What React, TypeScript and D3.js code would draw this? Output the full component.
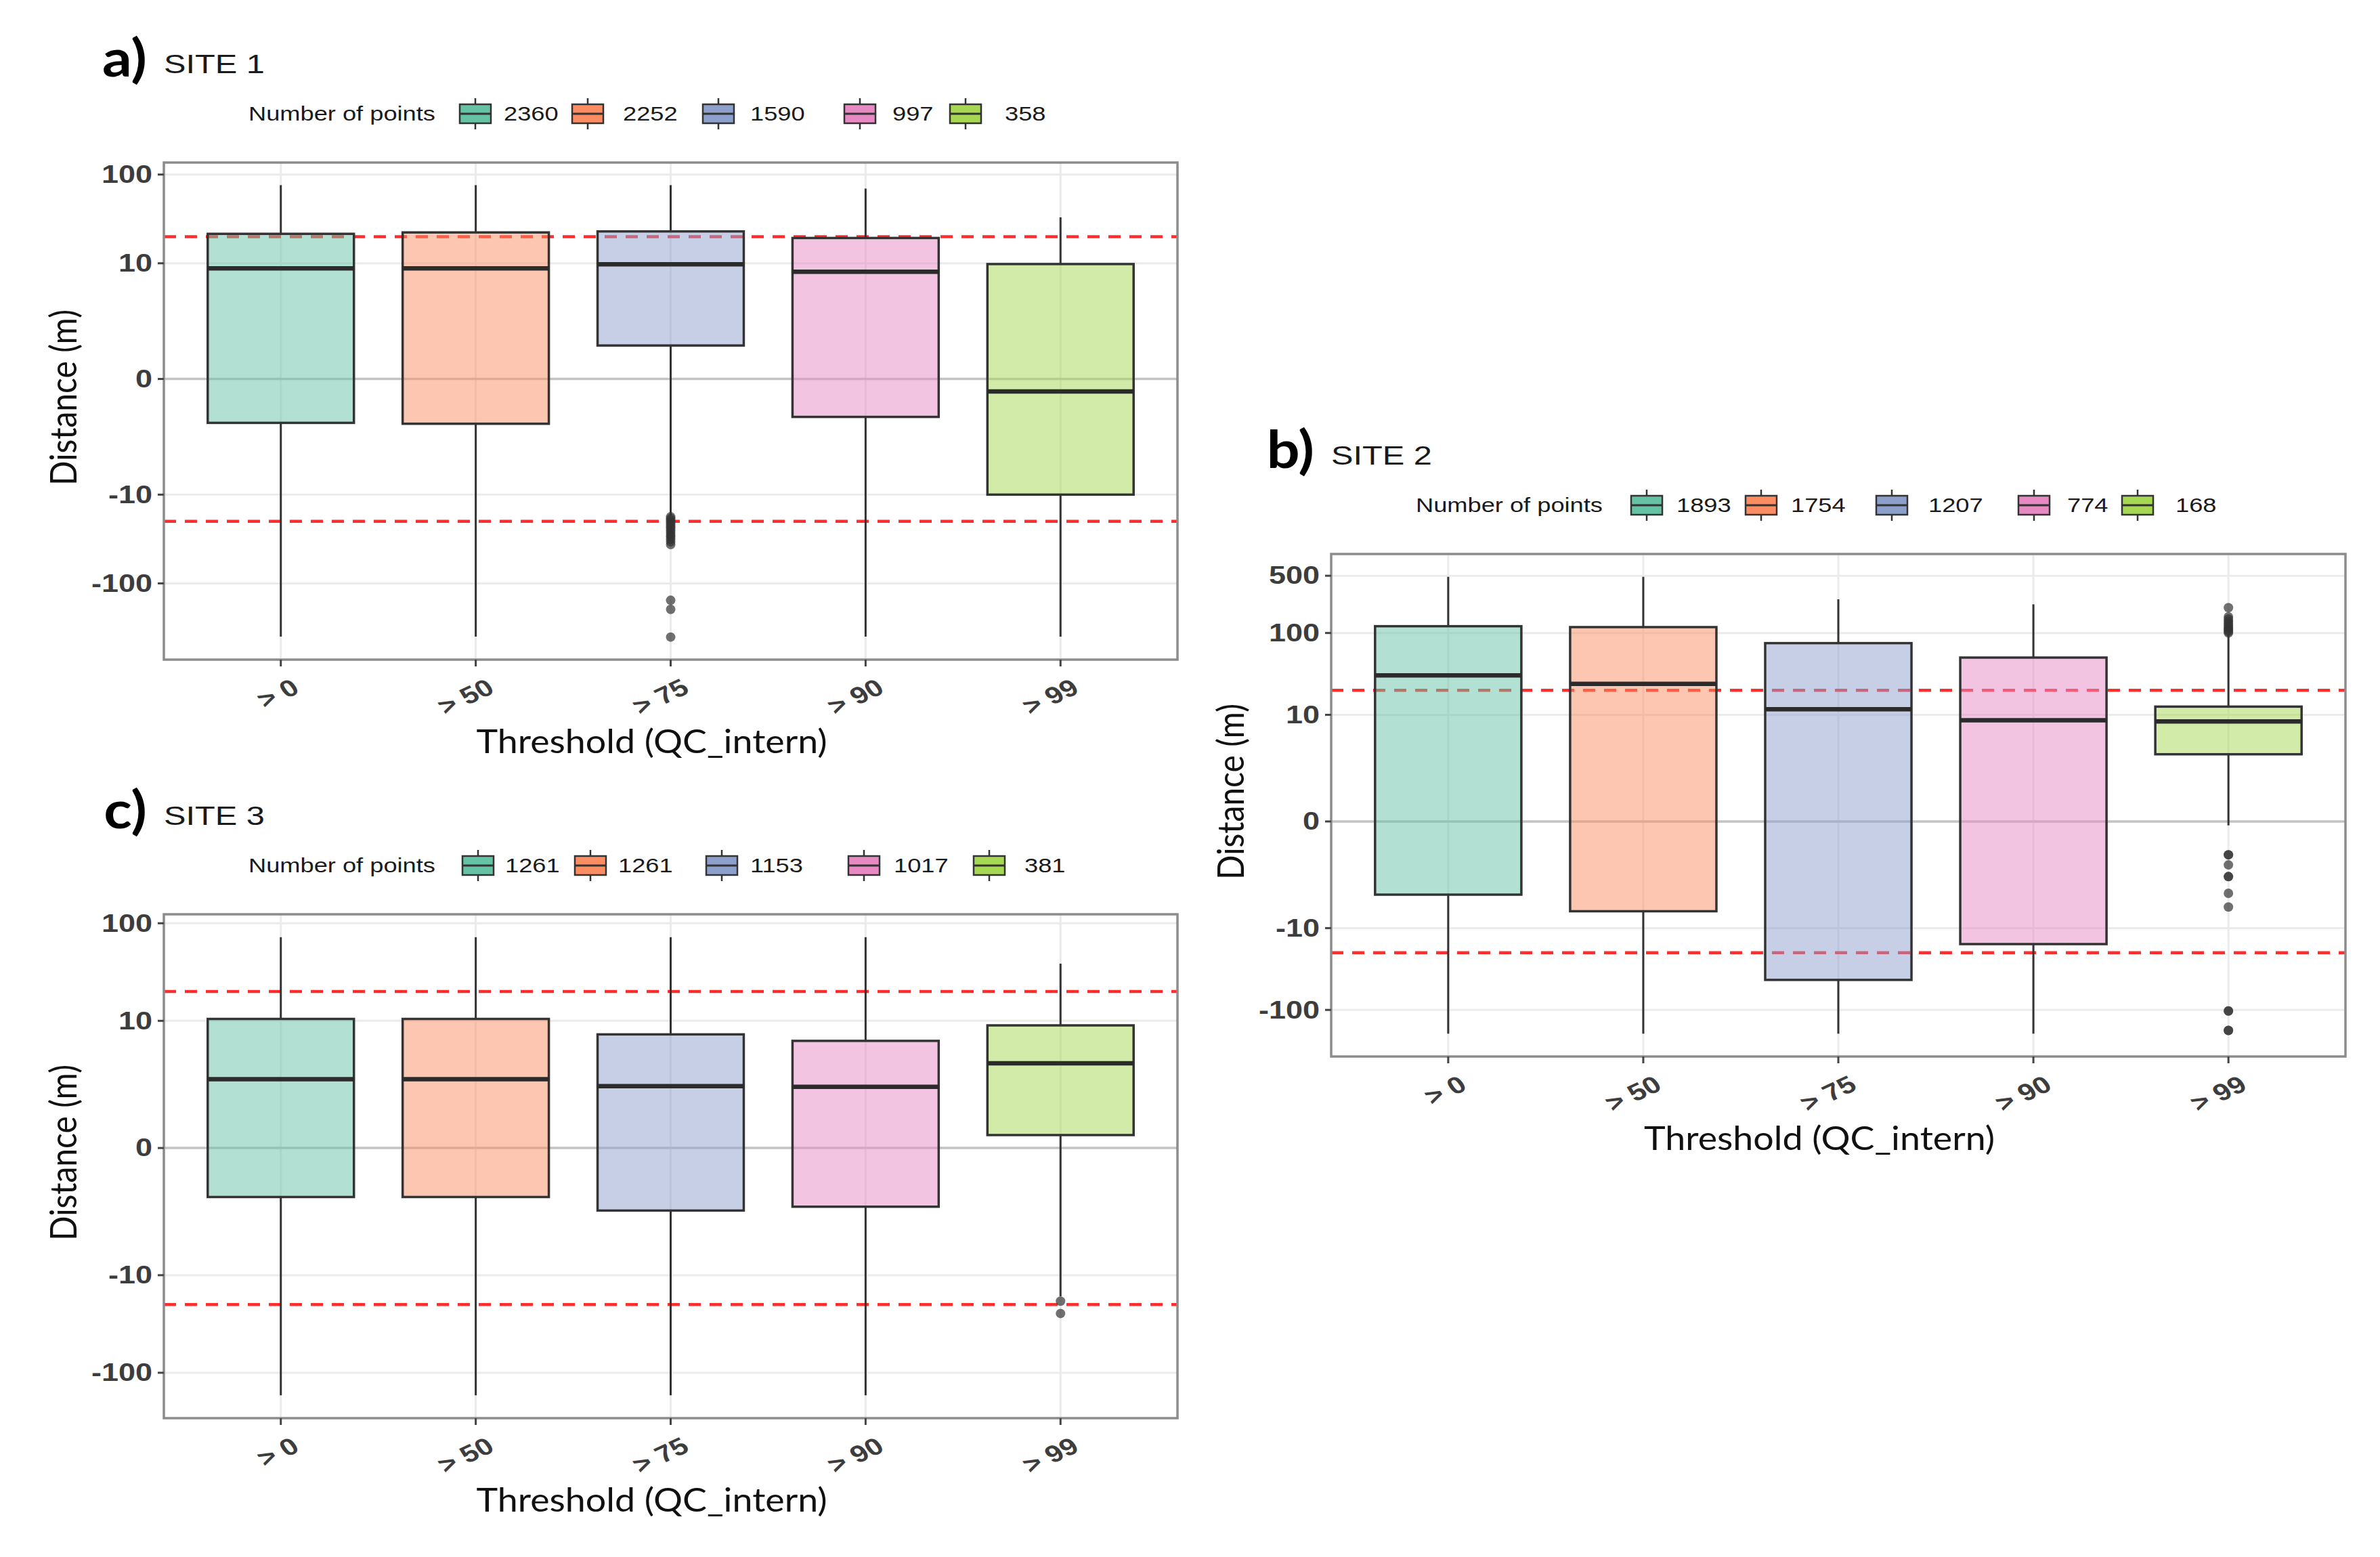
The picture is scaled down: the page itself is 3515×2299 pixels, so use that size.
import React from "react";
import * as d3 from "d3";

// thresholds on QC_intern and Set2 colours
const categories = ["> 0", "> 50", "> 75", "> 90", "> 99"];
const fillColors = ["#66C2A5", "#FC8D62", "#8DA0CB", "#E78AC3", "#A6D854"];
const thresholdLines = [-20, 20];

// SITE 1
const site1Counts = [2360, 2252, 1590, 997, 358];
const site1Lower = [-398, -398, -17.4, -398, -398];
const site1Q1 = [-1.4, -1.44, 0.98, -1.15, -10];
const site1Median = [8.78, 8.78, 9.73, 8.02, -0.33];
const site1Q3 = [21.5, 22.3, 22.9, 19.3, 9.8];
const site1Upper = [76, 76, 76, 69.5, 33];
const site1Outliers = [
  [],
  [],
  [-17.8, -18.6, -19.5, -20.5, -21.6, -22.8, -24, -25.5, -27, -28.5, -30, -32, -34, -36.5, -155, -196, -402],
  [],
  [],
];
const site1Ticks = [-100, -10, 0, 10, 100];

// SITE 2
const site2Counts = [1893, 1754, 1207, 774, 168];
const site2Lower = [-195, -195, -195, -195, -0.11];
const site2Q1 = [-3.85, -6.2, -43, -15.7, 3.23];
const site2Median = [30.3, 23.9, 11.7, 8.56, 8.3];
const site2Q3 = [121, 118, 75.2, 50.1, 12.6];
const site2Upper = [485, 485, 258, 224, 99];
const site2Outliers = [
  [],
  [],
  [],
  [],
  [100, 104, 108, 113, 118, 124, 131, 139, 148, 158, 204, -1.08, -1.08, -1.55, -2.25, -2.25, -3.7, -5.5, -103, -103, -178, -178],
];
const site2Ticks = [-100, -10, 0, 10, 100, 500];

// SITE 3
const site3Counts = [1261, 1261, 1153, 1017, 381];
const site3Lower = [-170, -170, -170, -170, -16.5];
const site3Q1 = [-1.43, -1.43, -2.07, -1.87, 0.31];
const site3Median = [2.43, 2.43, 2.03, 2.0, 3.62];
const site3Q3 = [10.46, 10.46, 7.25, 6.21, 8.98];
const site3Upper = [72, 72, 72, 72, 38.6];
const site3Outliers = [[], [], [], [], [-18.5, -24.7]];
const site3Ticks = [-100, -10, 0, 10, 100];

const SANS = "'Liberation Sans', Arial, sans-serif";
const HUMAN = "Lato, 'Open Sans', sans-serif";
const SX = 1.25; // the figure is stretched horizontally
const SX2 = 1.12;

interface PanelProps {
  letter: string;
  site: string;
  counts: number[];
  lower: number[];
  q1: number[];
  median: number[];
  q3: number[];
  upper: number[];
  outliers: number[][];
  ticks: number[];
  left: number;
  top: number;
  width: number;
  height: number;
  keyX: number[];
  labelX: number[];
}

const Panel: React.FC<PanelProps> = ({
  letter, site, counts, lower, q1, median, q3, upper, outliers, ticks,
  left, top, width, height, keyX, labelX,
}) => {
  const bottom = top + height;
  const right = left + width;

  const x = d3.scalePoint<string>().domain(categories).range([left, right]).padding(0.6);
  const bw = x.step() * 0.75;

  // pseudo-log axis (asinh), 5% expansion like ggplot
  const tv = [...lower, ...upper, ...outliers.flat()].map(Math.asinh);
  const lo = d3.min(tv) ?? 0;
  const hi = d3.max(tv) ?? 1;
  const pad = (hi - lo) * 0.05;
  const yT = d3.scaleLinear().domain([lo - pad, hi + pad]).range([bottom, top]);
  const y = (v: number) => yT(Math.asinh(v));

  const legendY = top - 72;
  const titleY = top - 132;

  return (
    <g>
      {/* title */}
      <text
        transform={`translate(${left - 25},${top - 127}) scale(${SX2},1)`}
        textAnchor="end"
        fontFamily={HUMAN}
        fontWeight={700}
        fontSize={77}
        fill="#000"
      >
        {letter}
      </text>
      <text
        transform={`translate(${left},${titleY}) scale(${SX},1)`}
        fontFamily={SANS}
        fontSize={39}
        fill="#1a1a1a"
      >
        {site}
      </text>

      {/* legend */}
      <text
        transform={`translate(${left + 125},${legendY}) scale(${SX},1)`}
        fontFamily={SANS}
        fontSize={29}
        dominantBaseline="central"
        fill="#1a1a1a"
      >
        Number of points
      </text>
      {counts.map((c, i) => {
        const kx = left + keyX[i];
        return (
          <g key={`lg${i}`}>
            <line x1={kx + 23} x2={kx + 23} y1={legendY - 23} y2={legendY + 23} stroke="#333" strokeWidth={2.5} />
            <rect x={kx} y={legendY - 14} width={46} height={28} fill={fillColors[i]} stroke="#333" strokeWidth={2.5} />
            <line x1={kx} x2={kx + 46} y1={legendY} y2={legendY} stroke="#333" strokeWidth={3} />
            <text
              transform={`translate(${left + labelX[i]},${legendY}) scale(${SX},1)`}
              fontFamily={SANS}
              fontSize={29}
              dominantBaseline="central"
              fill="#1a1a1a"
            >
              {c}
            </text>
          </g>
        );
      })}

      {/* panel background and grid */}
      <rect x={left} y={top} width={width} height={height} fill="#fff" />
      {ticks.map((t) => (
        <line key={`gy${t}`} x1={left} x2={right} y1={y(t)} y2={y(t)} stroke="#ebebeb" strokeWidth={3} />
      ))}
      {categories.map((c) => (
        <line key={`gx${c}`} x1={x(c)} x2={x(c)} y1={top} y2={bottom} stroke="#ebebeb" strokeWidth={3} />
      ))}
      <line x1={left} x2={right} y1={y(0)} y2={y(0)} stroke="#c4c4c4" strokeWidth={3.5} />
      {thresholdLines.map((v) => (
        <line
          key={`th${v}`}
          x1={left}
          x2={right}
          y1={y(v)}
          y2={y(v)}
          stroke="#ff2e2e"
          strokeWidth={4.5}
          strokeDasharray="18 13"
        />
      ))}

      {/* boxes */}
      {categories.map((c, i) => {
        const cx = x(c) ?? 0;
        return (
          <g key={`bx${c}`}>
            <line x1={cx} x2={cx} y1={y(q3[i])} y2={y(upper[i])} stroke="#333" strokeWidth={3} />
            <line x1={cx} x2={cx} y1={y(q1[i])} y2={y(lower[i])} stroke="#333" strokeWidth={3} />
            <rect
              x={cx - bw / 2}
              y={y(q3[i])}
              width={bw}
              height={y(q1[i]) - y(q3[i])}
              fill={fillColors[i]}
              fillOpacity={0.5}
              stroke="#333"
              strokeWidth={3.5}
            />
            <line
              x1={cx - bw / 2}
              x2={cx + bw / 2}
              y1={y(median[i])}
              y2={y(median[i])}
              stroke="#2b2b2b"
              strokeWidth={6.5}
            />
            {outliers[i].map((o, j) => (
              <circle key={`o${j}`} cx={cx} cy={y(o)} r={7} fill="#333" fillOpacity={0.7} />
            ))}
          </g>
        );
      })}

      <rect x={left} y={top} width={width} height={height} fill="none" stroke="#8c8c8c" strokeWidth={3.5} />

      {/* y axis */}
      {ticks.map((t) => (
        <g key={`yt${t}`}>
          <line x1={left - 9} x2={left} y1={y(t)} y2={y(t)} stroke="#444" strokeWidth={3} />
          <text
            transform={`translate(${left - 17},${y(t)}) scale(${SX},1)`}
            textAnchor="end"
            dominantBaseline="central"
            fontFamily={SANS}
            fontWeight={700}
            fontSize={36}
            fill="#3d3d3d"
          >
            {t}
          </text>
        </g>
      ))}
      <text
        transform={`translate(${left - 150},${top + height / 2 - 20}) scale(${SX2},1) rotate(-90)`}
        textAnchor="middle"
        dominantBaseline="central"
        fontFamily={HUMAN}
        fontSize={48}
        fill="#111"
      >
        Distance (m)
      </text>

      {/* x axis */}
      {categories.map((c) => {
        const cx = x(c) ?? 0;
        return (
          <g key={`xt${c}`}>
            <line x1={cx} x2={cx} y1={bottom} y2={bottom + 10} stroke="#444" strokeWidth={3} />
            <text
              transform={`translate(${cx + 14},${bottom + 26}) scale(${SX},1) rotate(-30)`}
              textAnchor="end"
              dominantBaseline="hanging"
              fontFamily={SANS}
              fontWeight={700}
              fontSize={35}
              fill="#3d3d3d"
            >
              {c}
            </text>
          </g>
        );
      })}
      <text
        transform={`translate(${left + width / 2 - 28},${bottom + 138}) scale(${SX2},1)`}
        textAnchor="middle"
        fontFamily={HUMAN}
        fontSize={48}
        fill="#111"
      >
        Threshold (QC_intern)
      </text>
    </g>
  );
};

const App: React.FC = () => {
  return (
    <svg
      width={3515}
      height={2299}
      style={{ position: "absolute", left: 0, top: 0, background: "#fff" }}
    >
      <Panel
        letter="a)"
        site="SITE 1"
        counts={site1Counts}
        lower={site1Lower}
        q1={site1Q1}
        median={site1Median}
        q3={site1Q3}
        upper={site1Upper}
        outliers={site1Outliers}
        ticks={site1Ticks}
        left={242}
        top={240}
        width={1497}
        height={734}
        keyX={[437, 603, 796, 1005, 1161]}
        labelX={[502, 678, 866, 1076, 1242]}
      />
      <Panel
        letter="b)"
        site="SITE 2"
        counts={site2Counts}
        lower={site2Lower}
        q1={site2Q1}
        median={site2Median}
        q3={site2Q3}
        upper={site2Upper}
        outliers={site2Outliers}
        ticks={site2Ticks}
        left={1966}
        top={818}
        width={1498}
        height={742}
        keyX={[443, 612, 805, 1015, 1168]}
        labelX={[510, 679, 882, 1087, 1247]}
      />
      <Panel
        letter="c)"
        site="SITE 3"
        counts={site3Counts}
        lower={site3Lower}
        q1={site3Q1}
        median={site3Median}
        q3={site3Q3}
        upper={site3Upper}
        outliers={site3Outliers}
        ticks={site3Ticks}
        left={242}
        top={1350}
        width={1497}
        height={744}
        keyX={[441, 607, 801, 1011, 1196]}
        labelX={[504, 671, 866, 1078, 1271]}
      />
    </svg>
  );
};

export default App;
